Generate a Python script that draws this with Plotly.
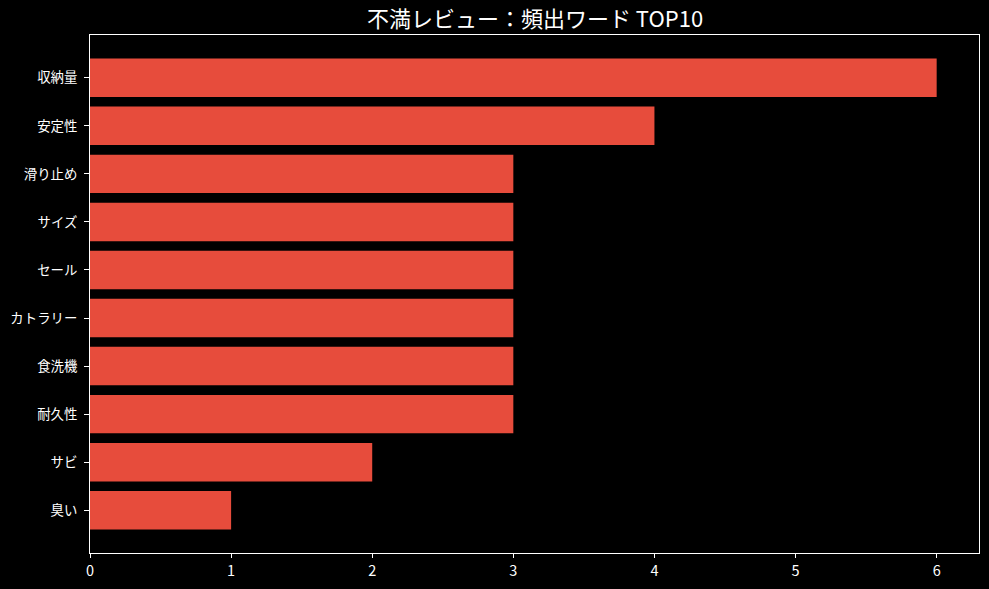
import plotly.graph_objects as go

# 不満レビューの頻出ワード（上から順）
words = ["収納量", "安定性", "滑り止め", "サイズ", "セール", "カトラリー", "食洗機", "耐久性", "サビ", "臭い"]
counts = [6, 4, 3, 3, 3, 3, 3, 3, 2, 1]
x_ticks = [0, 1, 2, 3, 4, 5, 6]

# matplotlib の barh と同じく下から積む
ys = list(range(len(words)))[::-1]

fig = go.Figure(
    go.Bar(
        x=counts,
        y=ys,
        orientation="h",
        width=0.8,
        marker=dict(color="#e74c3c", line=dict(width=0)),
        hoverinfo="x+text",
        text=words,
        textposition="none",
    )
)

fig.update_layout(
    width=989,
    height=589,
    title=dict(
        text="不満レビュー：頻出ワード TOP10",
        x=(90 + 980) / 2 / 989,
        xanchor="center",
        y=1 - 19 / 589,
        yanchor="middle",
        font=dict(size=22, color="white", family="Noto Sans CJK JP"),
    ),
    plot_bgcolor="black",
    paper_bgcolor="black",
    showlegend=False,
    margin=dict(l=90, r=9, t=35, b=34),
    font=dict(family="Noto Sans CJK JP", color="white", size=13.5),
    xaxis=dict(
        range=[0, 6.3],
        tickvals=x_ticks,
        ticks="outside",
        ticklen=4,
        tickcolor="white",
        tickfont=dict(size=14.5),
        ticklabelstandoff=1,
        showgrid=False,
        zeroline=False,
        showline=True,
        linecolor="white",
        linewidth=1,
        mirror=True,
    ),
    yaxis=dict(
        range=[-0.89, 9.89],
        tickvals=ys,
        ticktext=words,
        ticks="outside",
        ticklen=5,
        tickcolor="white",
        tickfont=dict(size=13.4),
        ticklabelstandoff=4,
        showgrid=False,
        zeroline=False,
        showline=True,
        linecolor="white",
        linewidth=1,
        mirror=True,
    ),
)

# ページ余白を消して黒背景に
fig.write_html(
    "out.html",
    config={"displayModeBar": False},
    post_script="document.body.style.margin='0';document.body.style.background='black';",
)
